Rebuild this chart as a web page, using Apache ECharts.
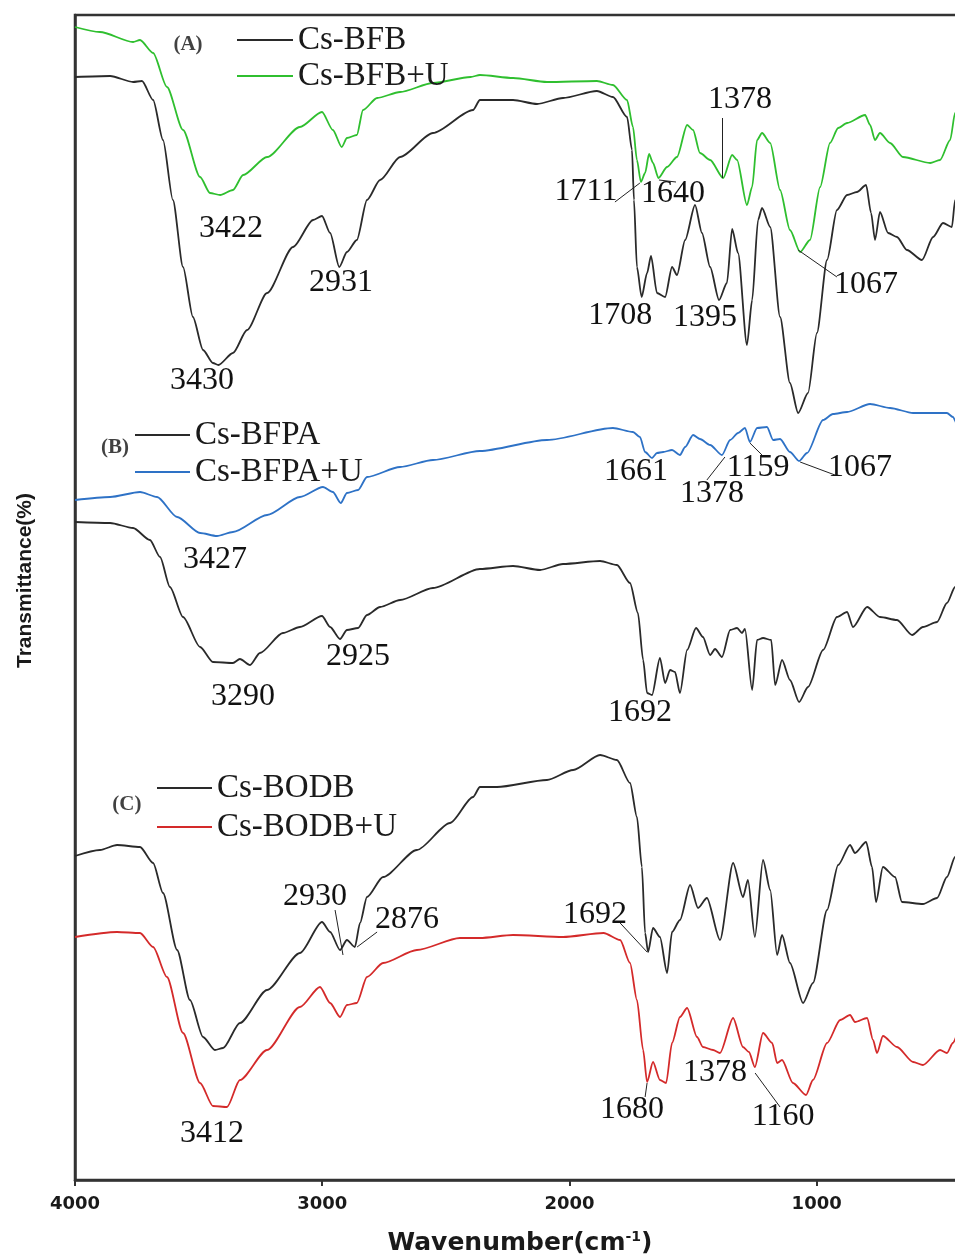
<!DOCTYPE html>
<html>
<head>
<meta charset="utf-8">
<script src="https://cdn.jsdelivr.net/npm/echarts@6/dist/echarts.min.js"></script>
<style>
html,body{margin:0;padding:0;background:#fff;}
#chart{width:955px;height:1256px;}
</style>
</head>
<body>
<div id="chart"></div>
<script>
// ---- data: [wavenumber (cm-1), transmittance (arbitrary offset units)] ----
const csBFB = [[4000,110.3],[3858,110.4],[3765,109.8],[3729,109.9],[3684,108.0],[3644,104.0],[3604,98.0],[3563,91.3],[3523,86.3],[3482,83.0],[3442,81.7],[3420,81.5],[3361,82.7],[3304,85.0],[3223,88.7],[3118,93.3],[3037,96.0],[3001,96.4],[2968,94.7],[2931,91.3],[2900,92.8],[2860,94.0],[2819,98.0],[2766,100.0],[2685,102.3],[2552,104.7],[2390,107.0],[2362,108.0],[2228,108.0],[2131,107.6],[2026,108.2],[1889,108.9],[1824,108.3],[1767,106.3],[1747,103.0],[1739,98.0],[1727,91.3],[1708,88.3],[1686,90.7],[1670,92.4],[1646,88.7],[1613,88.3],[1585,91.3],[1565,90.5],[1532,94.0],[1492,97.5],[1464,94.7],[1431,91.3],[1395,88.0],[1363,89.7],[1342,95.1],[1318,92.7],[1282,83.5],[1261,88.0],[1237,96.0],[1221,97.2],[1188,95.3],[1148,86.3],[1108,79.7],[1075,76.7],[1035,78.7],[999,84.7],[958,92.0],[918,97.0],[877,98.5],[837,98.8],[800,99.5],[780,96.7],[764,94.0],[744,96.8],[711,94.7],[675,94.3],[635,93.0],[574,92.0],[529,94.3],[489,95.7],[453,95.3],[440,98.0],[400,100.0]];
const csBFBU = [[4000,115.3],[3899,114.8],[3765,113.8],[3737,114.0],[3684,112.7],[3628,109.3],[3563,105.0],[3494,100.3],[3454,98.7],[3413,98.5],[3361,99.0],[3320,100.5],[3223,102.3],[3090,105.3],[3001,106.8],[2957,105.0],[2921,103.3],[2900,104.2],[2860,104.5],[2835,107.0],[2778,108.2],[2685,108.8],[2552,109.7],[2400,110.3],[2362,110.5],[2228,110.2],[2091,109.8],[1889,109.9],[1824,109.5],[1767,108.0],[1743,105.3],[1727,102.0],[1711,99.8],[1694,100.7],[1678,102.6],[1662,101.7],[1640,100.2],[1605,101.3],[1565,102.3],[1524,105.5],[1500,105.0],[1472,102.7],[1431,102.0],[1378,100.2],[1342,102.5],[1322,102.0],[1282,97.5],[1261,99.3],[1241,104.0],[1221,104.7],[1188,103.7],[1148,99.0],[1108,95.0],[1067,92.8],[1027,94.0],[986,99.3],[946,103.7],[913,105.2],[877,105.7],[804,106.5],[784,105.5],[764,104.0],[744,104.7],[703,103.7],[651,102.3],[541,101.7],[501,102.0],[460,104.0],[440,106.7],[400,108.5]];
const csBFPA = [[4000,65.8],[3858,65.7],[3765,65.2],[3697,64.0],[3656,62.3],[3616,59.3],[3563,56.3],[3494,53.3],[3442,51.8],[3361,51.7],[3333,52.1],[3292,51.5],[3252,52.7],[3159,54.7],[3090,55.3],[3001,56.4],[2968,55.3],[2928,54.1],[2900,55.0],[2855,55.2],[2819,56.5],[2766,57.3],[2685,58.0],[2552,59.2],[2362,61.1],[2228,61.4],[2119,61.0],[2026,61.6],[1876,61.9],[1808,61.5],[1755,59.7],[1723,56.7],[1702,52.0],[1686,48.7],[1666,48.5],[1634,52.2],[1613,49.7],[1593,51.0],[1573,50.8],[1553,48.7],[1524,53.0],[1488,55.2],[1460,54.3],[1431,52.5],[1411,53.1],[1383,52.3],[1350,55.0],[1322,55.2],[1302,54.7],[1290,55.1],[1261,49.0],[1241,54.0],[1217,54.2],[1184,54.0],[1168,49.5],[1140,52.0],[1108,50.0],[1071,47.8],[1035,49.3],[974,53.0],[918,56.3],[877,56.8],[853,55.3],[796,57.3],[744,56.3],[675,56.0],[614,54.5],[570,55.3],[513,55.8],[473,57.7],[440,59.3],[400,61.0]];
const csBFPAU = [[4000,68.0],[3858,68.3],[3737,68.8],[3668,68.3],[3587,66.3],[3494,64.7],[3426,64.4],[3361,64.8],[3223,66.5],[3090,68.3],[2997,69.3],[2957,68.8],[2925,67.7],[2900,68.7],[2855,69.0],[2819,70.3],[2685,71.3],[2552,72.0],[2362,72.9],[2091,74.0],[1824,75.2],[1743,74.8],[1715,74.3],[1694,72.8],[1666,72.2],[1646,72.7],[1621,72.8],[1585,73.0],[1553,72.5],[1532,73.3],[1500,74.5],[1472,74.1],[1431,73.5],[1383,72.5],[1350,74.0],[1318,74.7],[1290,75.2],[1270,73.8],[1241,75.2],[1201,75.3],[1176,74.0],[1148,74.1],[1108,72.8],[1071,71.9],[1039,72.7],[974,76.0],[934,76.6],[877,76.8],[784,77.6],[703,77.2],[610,76.7],[473,76.7],[449,76.3],[430,75.5],[400,75.0]];
const csBODB = [[4000,32.4],[3899,33.0],[3830,33.5],[3737,33.3],[3684,31.7],[3644,28.7],[3587,23.0],[3535,18.0],[3482,14.3],[3434,13.0],[3401,13.2],[3333,15.7],[3223,19.0],[3090,22.7],[3001,25.8],[2968,24.8],[2928,23.0],[2900,24.0],[2868,23.3],[2847,25.7],[2819,28.3],[2754,30.3],[2617,33.0],[2483,35.7],[2390,38.3],[2362,39.3],[2293,39.3],[2091,40.0],[1985,41.0],[1876,42.5],[1808,42.0],[1755,39.7],[1727,36.3],[1707,31.3],[1694,24.7],[1682,22.8],[1662,25.2],[1634,24.3],[1605,20.7],[1585,24.8],[1553,26.0],[1512,29.5],[1480,27.2],[1444,28.2],[1391,24.0],[1338,31.7],[1298,28.3],[1278,30.0],[1250,24.3],[1217,32.0],[1188,29.0],[1160,22.5],[1140,24.5],[1108,21.7],[1055,17.7],[1015,19.7],[958,27.0],[913,31.5],[865,33.5],[845,32.7],[800,33.8],[776,31.3],[760,27.8],[732,31.3],[683,30.3],[655,27.8],[570,27.6],[513,28.2],[473,30.3],[440,32.3],[400,34.0]];
const csBODBU = [[4000,24.3],[3830,24.8],[3737,24.7],[3684,23.3],[3628,20.3],[3563,14.7],[3494,9.7],[3442,7.4],[3385,7.3],[3333,10.0],[3223,13.0],[3090,17.3],[3009,19.3],[2968,17.7],[2928,16.3],[2900,17.5],[2860,17.7],[2819,20.3],[2754,21.7],[2617,23.0],[2443,24.2],[2362,24.2],[2228,24.5],[2026,24.3],[1862,24.7],[1795,24.0],[1755,21.7],[1727,18.0],[1702,13.0],[1686,9.8],[1662,11.8],[1634,10.0],[1609,9.7],[1585,13.7],[1553,16.3],[1524,17.2],[1484,14.3],[1460,13.3],[1419,13.0],[1391,12.7],[1338,16.2],[1298,13.3],[1274,12.8],[1250,11.3],[1217,14.7],[1180,13.7],[1160,11.7],[1140,12.0],[1096,9.7],[1043,8.5],[1015,10.0],[958,13.7],[905,16.0],[865,16.5],[845,15.8],[796,16.2],[772,14.0],[756,12.7],[732,14.4],[675,13.3],[610,11.8],[570,11.5],[501,13.0],[473,12.7],[449,13.7],[430,14.5],[400,15.0]];

// peak annotations: [text, wavenumber, transmittance]
const peakLabels = [
  ['3422',3369,95.1],['3430',3486,79.9],['2931',2924,89.7],['1378',1310,108.0],
  ['1711',1933,98.8],['1640',1581,98.6],['1708',1795,86.4],['1395',1452,86.2],['1067',800,89.5],
  ['1661',1731,70.8],['1378',1423,68.6],['1159',1237,71.2],['1067',825,71.2],
  ['3427',3434,62.0],['2925',2855,52.3],['3290',3320,48.3],['1692',1715,46.7],
  ['2930',3029,28.3],['2876',2657,26.0],['1692',1897,26.5],
  ['3412',3446,4.6],['1680',1747,7.0],['1378',1411,10.7],['1160',1136,6.3]
];
// leader lines: [[wn1,T1],[wn2,T2]]
const leaderLines = [
  [[1383,106.2],[1383,100.2]],[[1816,97.8],[1715,99.7]],[[1638,100.0],[1569,99.8]],
  [[1075,93.0],[918,90.3]],[[1444,70.0],[1371,72.3]],[[1270,73.7],[1221,72.5]],
  [[1067,71.8],[926,70.5]],[[2948,27.0],[2916,22.5]],[[2778,24.8],[2859,23.3]],
  [[1795,25.7],[1686,22.8]],[[1694,8.3],[1686,9.7]],[[1249,10.7],[1148,7.3]]
];
// panel tags: [text, wavenumber, transmittance]
const panelTags = [['(A)',3543,113.5],['(B)',3838,73.2],['(C)',3790,37.5]];
const xTicks = [1000,2000,3000,4000];

const BLACK = '#2a2a2a', GREEN = '#2fbf2f', BLUE = '#2e72c6', RED = '#d42a2a';

function curve(name, data, color) {
  return {
    name: name, type: 'line', data: data, symbol: 'none',
    smooth: 0.25, smoothMonotone: 'x',
    lineStyle: {color: color, width: 1.8}, itemStyle: {color: color},
    z: 3
  };
}

const serif = 'Liberation Serif, Times New Roman, serif';
const legendText = {fontFamily: serif, fontSize: 33, color: '#1a1a1a', lineHeight: 34};

const chart = echarts.init(document.getElementById('chart'));
chart.setOption({
  animation: false,
  backgroundColor: '#fff',
  grid: {left: 75, top: 15, width: 890, height: 1165, outerBoundsMode: 'none', containLabel: false,
    show: true, borderColor: '#333', borderWidth: 2.5},
  legend: [
    {data: ['Cs-BFB','Cs-BFB+U'], orient: 'vertical', left: 232, top: 18, itemWidth: 56, itemHeight: 2, itemGap: 2, icon: 'rect', textStyle: legendText, selectedMode: false},
    {data: ['Cs-BFPA','Cs-BFPA+U'], orient: 'vertical', left: 130, top: 413, itemWidth: 55, itemHeight: 2, itemGap: 3, icon: 'rect', textStyle: legendText, selectedMode: false},
    {data: ['Cs-BODB','Cs-BODB+U'], orient: 'vertical', left: 152, top: 766, itemWidth: 55, itemHeight: 2, itemGap: 5, icon: 'rect', textStyle: legendText, selectedMode: false}
  ],
  xAxis: {
    type: 'value', inverse: true, min: 400, max: 4000,
    name: 'Wavenumber(cm{sup|-1})', nameLocation: 'middle', nameGap: 50,
    nameTextStyle: {fontFamily: 'DejaVu Sans', fontWeight: 'bold', fontSize: 25, color: '#1a1a1a',
      rich: {sup: {fontFamily: 'DejaVu Sans', fontWeight: 'bold', fontSize: 14, color: '#1a1a1a', verticalAlign: 'top', padding: [0,0,12,0]}}},
    axisLine: {show: true, lineStyle: {color: '#333', width: 2.5}},
    axisTick: {show: true, customValues: xTicks, length: 6, inside: false, lineStyle: {color: '#333', width: 2}},
    axisLabel: {customValues: xTicks, formatter: v => String(v), fontFamily: 'DejaVu Sans', fontWeight: 'bold', fontSize: 18, color: '#1a1a1a', margin: 15},
    splitLine: {show: false}
  },
  yAxis: {
    type: 'value', min: 0, max: 116.5,
    name: 'Transmittance(%)', nameLocation: 'middle', nameGap: 39,
    nameTextStyle: {fontFamily: 'Liberation Sans', fontWeight: 'bold', fontSize: 21, color: '#1a1a1a', padding: [0,0,0,34]},
    axisLine: {show: true, lineStyle: {color: '#333', width: 2.5}},
    axisTick: {show: false}, axisLabel: {show: false}, splitLine: {show: false}
  },
  series: [
    curve('Cs-BFB', csBFB, BLACK),
    curve('Cs-BFB+U', csBFBU, GREEN),
    curve('Cs-BFPA', csBFPA, BLACK),
    curve('Cs-BFPA+U', csBFPAU, BLUE),
    curve('Cs-BODB', csBODB, BLACK),
    curve('Cs-BODB+U', csBODBU, RED),
    {
      name: 'peaks', type: 'scatter', symbolSize: 1, itemStyle: {color: 'rgba(0,0,0,0)'}, z: 5,
      data: peakLabels.map(p => [p[1], p[2], p[0]]),
      labelLayout: {hideOverlap: false},
      label: {show: true, position: 'inside', formatter: p => p.value[2],
        fontFamily: serif, fontSize: 32, color: '#111', textBorderWidth: 0, textBorderColor: 'transparent', opacity: 1},
      emphasis: {disabled: true},
      markLine: {
        silent: true, symbol: ['none','none'], animation: false,
        lineStyle: {color: '#222', width: 1, type: 'solid'},
        label: {show: false},
        data: leaderLines.map(l => [{coord: l[0]}, {coord: l[1]}])
      }
    },
    {
      name: 'tags', type: 'scatter', symbolSize: 1, itemStyle: {color: 'rgba(0,0,0,0)'}, z: 5,
      data: panelTags.map(p => [p[1], p[2], p[0]]),
      emphasis: {disabled: true},
      label: {show: true, position: 'inside', formatter: p => p.value[2],
        fontFamily: serif, fontWeight: 'bold', fontSize: 21, color: '#111', textBorderWidth: 0, textBorderColor: 'transparent'}
    }
  ]
});
</script>
</body>
</html>
